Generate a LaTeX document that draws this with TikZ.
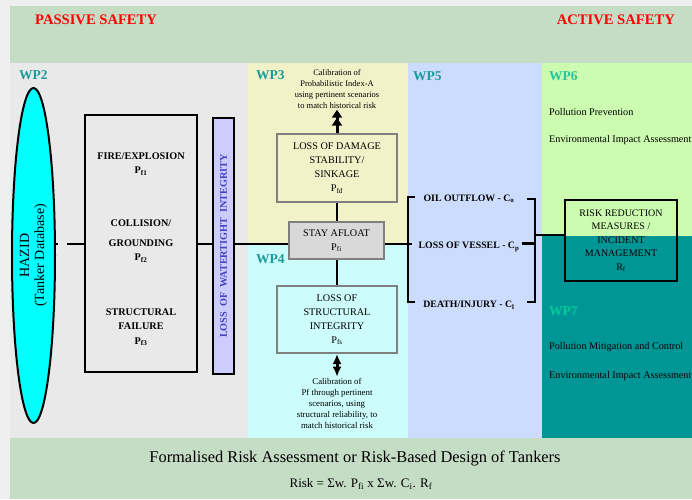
\documentclass[tikz,border=0pt]{standalone}
\usepackage{fontspec}
\setmainfont{Liberation Serif}
\usetikzlibrary{shapes.geometric,arrows.meta}
\definecolor{pagebg}{HTML}{EFEFEF}
\definecolor{band}{HTML}{C5DCC5}
\definecolor{wptwo}{HTML}{E9E9E9}
\definecolor{wpthree}{HTML}{F1F2C8}
\definecolor{wpfour}{HTML}{CCFCFC}
\definecolor{wpfive}{HTML}{CCDCFC}
\definecolor{wpsix}{HTML}{CCFCB0}
\definecolor{wpseven}{HTML}{009696}
\definecolor{wpteal}{HTML}{1A9A9A}
\definecolor{wpsixlab}{HTML}{22C89A}
\definecolor{wpsevenlab}{HTML}{00CC99}
\definecolor{lavender}{HTML}{CCCCFF}
\definecolor{barblue}{HTML}{4040C0}
\definecolor{boxgray}{HTML}{808080}
\definecolor{stayfill}{HTML}{D9D9D9}
\definecolor{hazidcyan}{HTML}{00FFFF}
\pgfdeclarelayer{bg}
\pgfdeclarelayer{lines}
\pgfsetlayers{bg,lines,main}
\tikzset{
  wplabel/.style={font=\fontsize{13.5}{13.5}\selectfont\bfseries, text=wpteal, anchor=west, inner sep=0},
  graybox/.style={draw=boxgray, line width=2pt, align=center, inner sep=0, font=\fontsize{10.2}{14}\selectfont},
  conn/.style={line width=2pt},
  boldtxt/.style={font=\fontsize{10.2}{14.5}\selectfont\bfseries, align=center, inner sep=0},
  plaintxt/.style={font=\fontsize{10.2}{13}\selectfont, anchor=west, inner sep=0},
  smalltxt/.style={font=\fontsize{8.5}{11}\selectfont, align=center, inner sep=1pt},
  headtxt/.style={font=\fontsize{14.6}{14.6}\selectfont\bfseries, text=red, inner sep=0},
}
\begin{document}
\begin{tikzpicture}[x=1pt,y=-1pt]
\useasboundingbox (0,0) rectangle (692,499);
\clip (0,0) rectangle (692,499);
\begin{pgfonlayer}{bg}
  \fill[pagebg] (0,0) rectangle (692,499);
  \fill[band] (10,6) rectangle (692,499);
  \fill[wptwo] (10,63) rectangle (248,438);
  \fill[wpthree] (248,63) rectangle (408,243);
  \fill[wpfour] (248,243) rectangle (408,438);
  \fill[wpfive] (408,63) rectangle (542,438);
  \fill[wpsix] (542,63) rectangle (692,236);
  \fill[wpseven] (542,236) rectangle (692,438);
\end{pgfonlayer}

% headings
\node[headtxt, anchor=west] (passive) at (35,20) {PASSIVE SAFETY};
\node[headtxt, anchor=east] (active) at (675,20) {ACTIVE SAFETY};

% WP labels
\node[wplabel] (wp2) at (19,75) {WP2};
\node[wplabel] (wp3) at (256,75) {WP3};
\node[wplabel] (wp4) at (256,259) {WP4};
\node[wplabel] (wp5) at (413,76) {WP5};
\node[wplabel, text=wpsixlab] (wp6) at (549,76) {WP6};
\node[wplabel, text=wpsevenlab] (wp7) at (549,311) {WP7};

% HAZID ellipse
\node[ellipse, draw, line width=2pt, fill=hazidcyan, rotate=90, minimum width=335pt,
      minimum height=43pt, inner sep=0, align=center, font=\fontsize{14}{15}\selectfont]
      (hazid) at (33.5,255.5) {HAZID\\(Tanker Database)};

% hazard box
\node[draw, line width=2pt, minimum width=112pt, minimum height=257pt, inner sep=0] (box) at (141,243.5) {};
\node[boldtxt] (fire) at (141,164) {FIRE/EXPLOSION\\P\textsubscript{f1}};
\node[boldtxt] (coll) at (141,241) {COLLISION/\\[5pt]GROUNDING\\P\textsubscript{f2}};
\node[boldtxt] (sfail) at (141,327) {STRUCTURAL\\FAILURE\\P\textsubscript{f3}};

% watertight bar
\node[draw, fill=lavender, line width=2pt, rotate=90, minimum width=256pt, minimum height=21pt,
      inner sep=0, text=barblue, font=\fontsize{10.2}{10.2}\selectfont\bfseries]
      (bar) at (223.5,246) {LOSS\ \ OF\ \ WATERTIGHT\ \ INTEGRITY};

% WP3 / WP4 boxes
\node[smalltxt] (calibtop) at (337,89) {Calibration of\\Probabilistic Index-A\\using pertinent scenarios\\to match historical risk};
\node[graybox, minimum width=120pt, minimum height=68pt] (damage) at (337,168) {LOSS OF DAMAGE\\STABILITY/\\SINKAGE\\P\textsubscript{fd}};
\node[graybox, fill=stayfill, minimum width=95pt, minimum height=37pt] (stay) at (336.5,240.5) {STAY AFLOAT\\P\textsubscript{fi}};
\node[graybox, minimum width=120pt, minimum height=67pt] (structint) at (337,319.5) {LOSS OF\\STRUCTURAL\\INTEGRITY\\P\textsubscript{fs}};
\node[smalltxt, font=\fontsize{8.8}{11}\selectfont] (calibbot) at (337,403) {Calibration of\\Pf through pertinent\\scenarios, using\\structural reliability, to\\match historical risk};

% consequences
\node[boldtxt, font=\fontsize{9.8}{12}\selectfont\bfseries] (oil) at (469,199) {OIL OUTFLOW - C\textsubscript{o}};
\node[boldtxt, font=\fontsize{9.8}{12}\selectfont\bfseries] (vessel) at (469,247) {LOSS OF VESSEL - C\textsubscript{p}};
\node[boldtxt, font=\fontsize{9.8}{12}\selectfont\bfseries] (death) at (469,305) {DEATH/INJURY - C\textsubscript{l}};

% risk reduction box
\node[draw, line width=2.5pt, minimum width=112pt, minimum height=81pt, inner sep=0, align=center,
      font=\fontsize{10}{13.5}\selectfont] (risk) at (621,240.5) {RISK REDUCTION\\MEASURES /\\INCIDENT\\MANAGEMENT\\R\textsubscript{f}};

% WP6 / WP7 texts
\node[plaintxt] (pp) at (549,112) {Pollution Prevention};
\node[plaintxt] (eia1) at (549,140) {Environmental Impact Assessment};
\node[plaintxt] (pmc) at (549,347) {Pollution Mitigation and Control};
\node[plaintxt] (eia2) at (549,376) {Environmental Impact Assessment};

% bottom texts
\node[font=\fontsize{16.4}{16.4}\selectfont, inner sep=0] (title) at (355,458) {Formalised Risk Assessment or Risk-Based Design of Tankers};
\node[font=\fontsize{13}{13}\selectfont, inner sep=0] (formula) at (361,484) {Risk = Σw. P\textsubscript{fi} x Σw. C\textsubscript{i}. R\textsubscript{f}};

% bracket coordinates
\coordinate (lbtop) at (415,197);
\coordinate (lbtopc) at (408,197);
\coordinate (lbbot) at (415,302);
\coordinate (lbbotc) at (408,302);
\coordinate (lbmid) at (412,243.5);
\coordinate (rbtop) at (527,199);
\coordinate (rbtopc) at (535,199);
\coordinate (rbbot) at (527,302);
\coordinate (rbbotc) at (535,302);
\coordinate (rbmid) at (522,243.5);
\coordinate (rbmidc) at (535,243.5);
\coordinate (rjoin) at (535,235);

\begin{pgfonlayer}{lines}
  \draw[conn, dash pattern=on 17pt off 9pt] (box.west) -- (box.west -| hazid.south);
  \draw[conn] (box.east) -- (box.east -| stay.west);
  \draw[conn] (box.east -| stay.east) -- (lbmid);
  \draw[conn] (damage.south) -- (damage.south |- stay.north);
  \draw[conn] (structint.north |- stay.south) -- (structint.north);
  \draw[line width=2.5pt] (lbtop) -- (lbtopc) -- (lbbotc) -- (lbbot);
  \draw[line width=2.5pt] (rbtop) -- (rbtopc) -- (rbbotc) -- (rbbot);
  \draw[line width=2.5pt] (rbmid) -- (rbmidc);
  \draw[conn] (rjoin) -- (rjoin -| risk.west);
  \draw[line width=3pt, -{Triangle[width=10pt,length=8pt]Triangle[width=10pt,length=8pt]}] (damage.north) -- (calibtop.south);
  \draw[line width=3pt, {Latex[width=9pt,length=10pt]}-{Latex[width=9pt,length=10pt]}] (structint.south) -- (calibbot.north);
\end{pgfonlayer}
\end{tikzpicture}
\end{document}
